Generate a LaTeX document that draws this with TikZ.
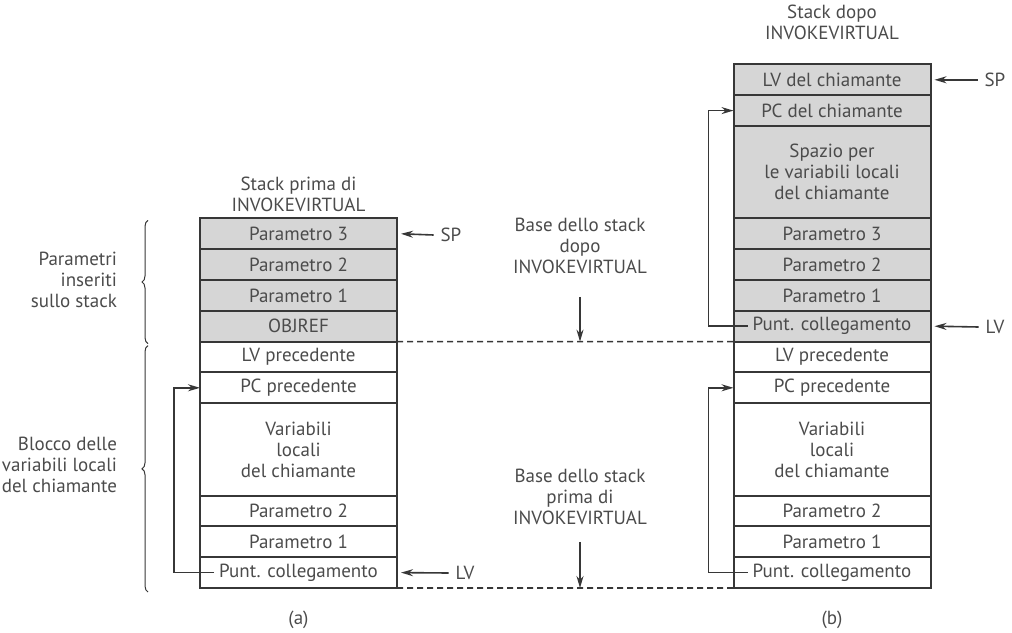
\documentclass[tikz,border=0pt]{standalone}
\usepackage{fontspec}
\setmainfont{PT Sans}
\usetikzlibrary{arrows.meta,positioning,calc,decorations.pathreplacing}
\definecolor{inkGray}{RGB}{55, 55, 55}
\definecolor{textGray}{RGB}{75, 75, 75}
\definecolor{cellShade}{RGB}{214, 214, 214}

\begin{document}
\begin{tikzpicture}[x=0.5pt,y=-0.5pt,
    cell/.style={draw=inkGray, line width=1pt, minimum width=98.5pt, minimum height=15.4pt,
        inner sep=0pt, outer sep=0pt, text=textGray, align=center,
        font=\fontsize{9.5pt}{10.5pt}\selectfont},
    bigcell/.style={cell, minimum height=46.2pt},
    shaded/.style={fill=cellShade},
    lbl/.style={text=textGray, align=center, font=\fontsize{9.5pt}{10.5pt}\selectfont},
    ptr/.style={draw=inkGray, line width=0.8pt, -{Stealth[length=6pt,width=3.5pt]}},
    base/.style={draw=inkGray, line width=0.8pt, dash pattern=on 3pt off 2pt},
    curly/.style={draw=inkGray, line width=0.5pt, decorate, decoration={brace, amplitude=3pt}}]
\useasboundingbox (0,0) rectangle (1012,632);

% (a) stack before the call
\node[lbl] (aTitle) at (298.5,194) {Stack prima di\\INVOKEVIRTUAL};
\node[cell,shaded] (aP3) at (298.5,233.8) {Parametro 3};
\node[cell,shaded,below=0pt of aP3] (aP2) {Parametro 2};
\node[cell,shaded,below=0pt of aP2] (aP1) {Parametro 1};
\node[cell,shaded,below=0pt of aP1] (aObj) {OBJREF};
\node[cell,below=0pt of aObj] (aLVp) {LV precedente};
\node[cell,below=0pt of aLVp] (aPCp) {PC precedente};
\node[bigcell,below=0pt of aPCp] (aVar) {Variabili\\locali\\del chiamante};
\node[cell,below=0pt of aVar] (aQ2) {Parametro 2};
\node[cell,below=0pt of aQ2] (aQ1) {Parametro 1};
\node[cell,below=0pt of aQ1] (aLink) {Punt. collegamento};
\node[lbl] (aCap) at (298.5,620) {(a)};

% (b) stack after the call
\node[lbl] (bTitle) at (832,22) {Stack dopo\\INVOKEVIRTUAL};
\node[cell,shaded] (bLVc) at (832,79.8) {LV del chiamante};
\node[cell,shaded,below=0pt of bLVc] (bPCc) {PC del chiamante};
\node[bigcell,shaded,below=0pt of bPCc] (bSpace) {Spazio per\\le variabili locali\\del chiamante};
\node[cell,shaded,below=0pt of bSpace] (bP3) {Parametro 3};
\node[cell,shaded,below=0pt of bP3] (bP2) {Parametro 2};
\node[cell,shaded,below=0pt of bP2] (bP1) {Parametro 1};
\node[cell,shaded,below=0pt of bP1] (bLink) {Punt. collegamento};
\node[cell,below=0pt of bLink] (bLVp) {LV precedente};
\node[cell,below=0pt of bLVp] (bPCp) {PC precedente};
\node[bigcell,below=0pt of bPCp] (bVar) {Variabili\\locali\\del chiamante};
\node[cell,below=0pt of bVar] (bQ2) {Parametro 2};
\node[cell,below=0pt of bQ2] (bQ1) {Parametro 1};
\node[cell,below=0pt of bQ1] (bLink0) {Punt. collegamento};
\node[lbl] (bCap) at (832,620) {(b)};

% SP / LV pointers
\node[lbl] (aSP) at (451,235) {SP};
\draw[ptr] (aSP.west) -- ([xshift=2pt]aP3.east);
\node[lbl] (aLV) at (465,573) {LV};
\draw[ptr] (aLV.west) -- ([xshift=2pt]aLink.east);
\node[lbl] (bSP) at (995,79.8) {SP};
\draw[ptr] (bSP.west) -- ([xshift=2pt]bLVc.east);
\node[lbl] (bLV) at (995,327) {LV};
\draw[ptr] (bLV.west) -- ([xshift=2pt]bLink.east);

% link pointers back to the saved PC
\draw[ptr] ([xshift=7pt]aLink.west) -| ([xshift=-13pt]aPCp.west) -- (aPCp.west);
\draw[ptr] ([xshift=7pt]bLink.west) -| ([xshift=-12.5pt]bPCc.west) -- (bPCc.west);
\draw[ptr] ([xshift=7pt]bLink0.west) -| ([xshift=-12.5pt]bPCp.west) -- (bPCp.west);

% stack bases
\draw[base] (aObj.south east) -- (bLink.south west);
\draw[base] (aLink.south east) -- (bLink0.south west);
\node[lbl] (baseAfter) at (580,246) {Base dello stack\\dopo\\INVOKEVIRTUAL};
\draw[ptr] ([yshift=-8pt]baseAfter.south) -- (baseAfter.south |- aObj.south);
\node[lbl] (baseBefore) at (580,497) {Base dello stack\\prima di\\INVOKEVIRTUAL};
\draw[ptr] ([yshift=-5pt]baseBefore.south) -- (baseBefore.south |- aLink.south);

% braces on the left
\coordinate (braceX) at (148,0);
\draw[curly] ([yshift=-1pt]aObj.south -| braceX) -- ([yshift=-1pt]aP3.north -| braceX);
\draw[curly] ([yshift=-2pt]aLink.south -| braceX) -- ([yshift=-2pt]aLVp.north -| braceX);
\node[lbl, anchor=east, align=right] (paramLbl) at (124,280) {Parametri\\inseriti\\sullo stack};
\node[lbl, anchor=east, align=right] (blockLbl) at (124,465) {Blocco delle\\variabili locali\\del chiamante};
\end{tikzpicture}
\end{document}
